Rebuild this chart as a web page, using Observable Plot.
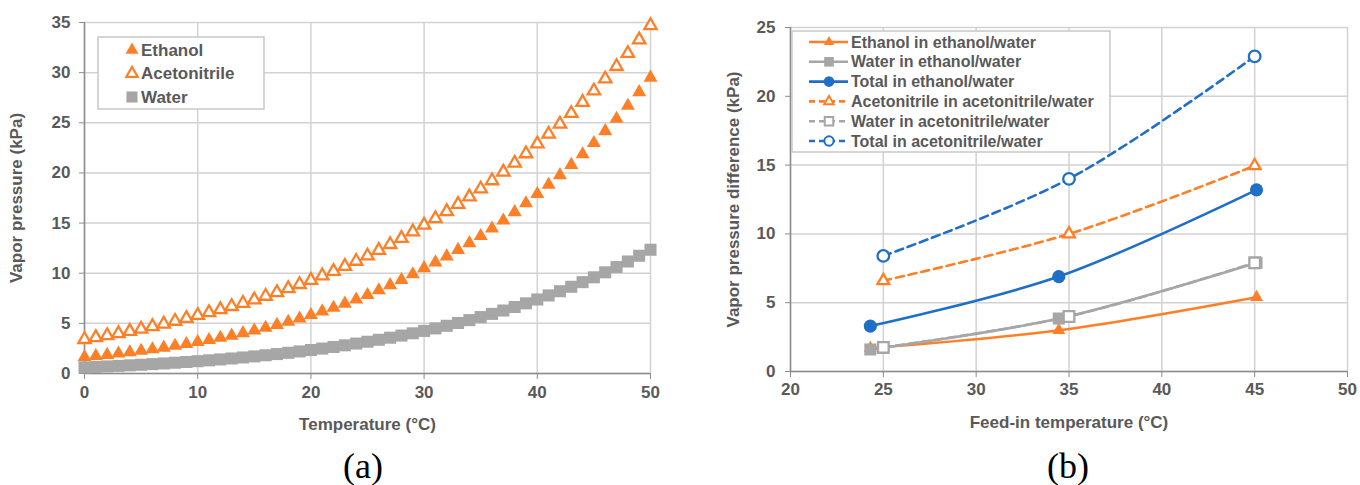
<!DOCTYPE html>
<html><head><meta charset="utf-8">
<script src="https://cdn.jsdelivr.net/npm/d3@7"></script>
<script src="https://cdn.jsdelivr.net/npm/@observablehq/plot@0.6"></script>
<style>
body{margin:0;background:#fff;}
#wrap{position:relative;width:1360px;height:485px;overflow:hidden;font-family:"Liberation Sans",Arial,sans-serif;}
.panel{position:absolute;top:0;}
.cap{position:absolute;top:448px;font-family:"Liberation Serif","Times New Roman",serif;font-size:36px;line-height:36px;color:#000;transform:translateX(-50%);white-space:nowrap;}
.legend{position:absolute;left:0;top:0;}
</style></head><body><div id="wrap"></div><script>
// ---------- Panel (a) data ----------
const tempC = [0,1,2,3,4,5,6,7,8,9,10,11,12,13,14,15,16,17,18,19,20,21,22,23,24,25,26,27,28,29,30,31,32,33,34,35,36,37,38,39,40,41,42,43,44,45,46,47,48,49,50];
const ethanolKPa = [1.63,1.74,1.86,1.99,2.12,2.27,2.42,2.58,2.76,2.94,3.14,3.34,3.56,3.78,4.03,4.28,4.56,4.85,5.16,5.48,5.83,6.19,6.56,6.96,7.38,7.83,8.30,8.81,9.34,9.90,10.50,11.08,11.68,12.32,13.00,13.71,14.46,15.26,16.09,16.97,17.90,18.82,19.78,20.80,21.86,22.98,24.16,25.40,26.70,28.06,29.50];
const acetonitrileKPa = [3.40,3.59,3.78,3.99,4.21,4.44,4.69,4.94,5.22,5.50,5.80,6.08,6.38,6.69,7.01,7.35,7.71,8.08,8.47,8.88,9.30,9.74,10.20,10.69,11.20,11.73,12.29,12.87,13.48,14.13,14.80,15.46,16.15,16.87,17.62,18.41,19.23,20.09,20.98,21.92,22.90,23.87,24.88,25.94,27.04,28.18,29.38,30.62,31.92,33.28,34.70];
const waterKPa = [0.611,0.657,0.706,0.758,0.813,0.872,0.935,1.002,1.073,1.148,1.228,1.313,1.403,1.498,1.599,1.706,1.819,1.938,2.064,2.198,2.339,2.488,2.645,2.810,2.985,3.169,3.363,3.567,3.782,4.008,4.246,4.495,4.758,5.034,5.323,5.627,5.945,6.280,6.630,6.997,7.381,7.784,8.205,8.646,9.108,9.590,10.09,10.62,11.17,11.74,12.34];
const xTicksA = [0,10,20,30,40,50];
const yTicksA = [0,5,10,15,20,25,30,35];

// ---------- Panel (b) data ----------
const feedTempEthanolSys = [24.3,34.45,45.1];
const ethanolInEthanolWater = [1.7,3.0,5.4];
const waterInEthanolWater = [1.6,3.85,7.9];
const totalInEthanolWater = [3.3,6.9,13.2];
const feedTempAcnSys = [25,35,45];
const acnInAcnWater = [6.6,10.0,14.95];
const waterInAcnWater = [1.75,4.0,7.9];
const totalInAcnWater = [8.4,14.0,22.9];
const xTicksB = [20,25,30,35,40,45,50];
const yTicksB = [0,5,10,15,20,25];

const ORANGE = "#FF7F27", GRAY = "#A6A6A6", BLUE = "#1F6FC6", TXT = "#595959", GRID = "#D2D2D2", AX = "#8C8C8C";

const seriesA = [
  {name:"Ethanol", values:ethanolKPa, symbol:"triangle", fill:ORANGE, stroke:"none", r:5.2},
  {name:"Acetonitrile", values:acetonitrileKPa, symbol:"triangle", fill:"white", stroke:ORANGE, r:4.6},
  {name:"Water", values:waterKPa, symbol:"square", fill:GRAY, stroke:"none", r:6.8}
];
const seriesB = [
  {name:"Ethanol in ethanol/water", x:feedTempEthanolSys, y:ethanolInEthanolWater, color:ORANGE, symbol:"triangle", open:false, dash:null, r:4.8},
  {name:"Water in ethanol/water", x:feedTempEthanolSys, y:waterInEthanolWater, color:GRAY, symbol:"square", open:false, dash:null, r:6.8},
  {name:"Total in ethanol/water", x:feedTempEthanolSys, y:totalInEthanolWater, color:BLUE, symbol:"circle", open:false, dash:null, r:6.6},
  {name:"Acetonitrile in acetonitrile/water", x:feedTempAcnSys, y:acnInAcnWater, color:ORANGE, symbol:"triangle", open:true, dash:"8,5", r:4.4},
  {name:"Water in acetonitrile/water", x:feedTempAcnSys, y:waterInAcnWater, color:GRAY, symbol:"square", open:true, dash:"8,5", r:6.0},
  {name:"Total in acetonitrile/water", x:feedTempAcnSys, y:totalInAcnWater, color:BLUE, symbol:"circle", open:true, dash:"8,5", r:5.8}
];

const style = {fontFamily:"'Liberation Sans', Arial, sans-serif", fontSize:"17px", fontWeight:"bold", color:TXT, background:"transparent", overflow:"visible"};
const wrap = d3.select("#wrap");

// ---------- Panel (a) ----------
const marksA = [
  Plot.gridX(xTicksA, {stroke:GRID, strokeOpacity:1, strokeWidth:1.5}),
  Plot.gridY(yTicksA, {stroke:GRID, strokeOpacity:1, strokeWidth:1.5}),
  Plot.ruleX([0], {stroke:AX, strokeWidth:1.5}),
  Plot.ruleY([0], {stroke:AX, strokeWidth:1.5}),
  Plot.axisX(xTicksA, {tickSize:6, tickPadding:6, stroke:AX, label:"Temperature (°C)", labelAnchor:"center", labelOffset:56, labelArrow:"none"}),
  Plot.axisY(yTicksA, {tickSize:5, tickPadding:9, stroke:AX, label:"Vapor pressure (kPa)", labelAnchor:"center", labelOffset:75, labelArrow:"none"})
];
for (const s of seriesA) {
  const rows = tempC.map((t,i)=>({t, v:s.values[i]}));
  marksA.push(Plot.dot(rows, {x:"t", y:"v", symbol:()=>s.symbol, r:s.r, fill:s.fill, stroke:s.stroke, strokeWidth:2.3}));
}
const plotA = Plot.plot({
  width:680, height:440, marginLeft:84, marginRight:30, marginTop:22, marginBottom:67,
  x:{domain:[0,50]}, y:{domain:[0,35]}, symbol:{type:"identity"}, style, marks:marksA
});
wrap.append("div").attr("class","panel").style("left","0px").node().appendChild(plotA);

// ---------- Panel (b) ----------
const marksB = [
  Plot.gridX(xTicksB, {stroke:GRID, strokeOpacity:1, strokeWidth:1.5}),
  Plot.gridY(yTicksB, {stroke:GRID, strokeOpacity:1, strokeWidth:1.5}),
  Plot.ruleX([20], {stroke:AX, strokeWidth:1.5}),
  Plot.ruleY([0], {stroke:AX, strokeWidth:1.5}),
  Plot.axisX(xTicksB, {tickSize:6, tickPadding:5, stroke:AX, label:"Feed-in temperature (°C)", labelAnchor:"center", labelOffset:56, labelArrow:"none"}),
  Plot.axisY(yTicksB, {tickSize:5, tickPadding:10, stroke:AX, label:"Vapor pressure difference (kPa)", labelAnchor:"center", labelOffset:64, labelArrow:"none"})
];
for (const s of seriesB) {
  const rows = s.x.map((x,i)=>({x, y:s.y[i]}));
  marksB.push(Plot.line(rows, {x:"x", y:"y", stroke:s.color, strokeWidth:2.6, curve:"catmull-rom", strokeDasharray:s.dash || undefined}));
  marksB.push(Plot.dot(rows, {x:"x", y:"y", symbol:()=>s.symbol, r:s.r, fill:s.open ? "white" : s.color, stroke:s.open ? s.color : "none", strokeWidth:2.3}));
}
const plotB = Plot.plot({
  width:680, height:440, marginLeft:110, marginRight:13, marginTop:27, marginBottom:69,
  x:{domain:[20,50]}, y:{domain:[0,25]}, symbol:{type:"identity"}, style, marks:marksB
});
wrap.append("div").attr("class","panel").style("left","680px").node().appendChild(plotB);

// ---------- Legends ----------
const symMap = {triangle:d3.symbolTriangle, square:d3.symbolSquare, circle:d3.symbolCircle};
const svgL = wrap.append("svg").attr("class","legend").attr("width",1360).attr("height",485)
  .style("font-family","'Liberation Sans', Arial, sans-serif").style("font-weight","bold").style("pointer-events","none");

// legend (a)
svgL.append("rect").attr("x",98).attr("y",37).attr("width",166).attr("height",72)
  .attr("fill","white").attr("stroke","#C8C8C8").attr("stroke-width",1.5);
seriesA.forEach((s,i)=>{
  const cy = 50 + i*23.5;
  svgL.append("path").attr("transform",`translate(132,${cy})`)
    .attr("d", d3.symbol(symMap[s.symbol], Math.PI*(s.r*0.92)**2)())
    .attr("fill", s.fill).attr("stroke", s.stroke).attr("stroke-width",2.2);
  svgL.append("text").attr("x",141).attr("y",cy).attr("dy","0.35em").attr("font-size",17).attr("fill",TXT).text(s.name);
});

// legend (b)
svgL.append("rect").attr("x",792).attr("y",31).attr("width",318).attr("height",121)
  .attr("fill","white").attr("stroke","#C8C8C8").attr("stroke-width",1.5);
seriesB.forEach((s,i)=>{
  const cy = 42 + i*19.8;
  svgL.append("line").attr("x1",809).attr("x2",848).attr("y1",cy).attr("y2",cy)
    .attr("stroke",s.color).attr("stroke-width",2.6).attr("stroke-dasharray", s.dash ? "6,4" : null);
  svgL.append("path").attr("transform",`translate(829,${cy})`)
    .attr("d", d3.symbol(symMap[s.symbol], Math.PI*(s.r*0.8)**2)())
    .attr("fill", s.open ? "white" : s.color).attr("stroke", s.open ? s.color : "none").attr("stroke-width",2);
  svgL.append("text").attr("x",851).attr("y",cy).attr("dy","0.35em").attr("font-size",16).attr("fill",TXT).text(s.name);
});

// captions
wrap.append("div").attr("class","cap").style("left","363px").text("(a)");
wrap.append("div").attr("class","cap").style("left","1068px").text("(b)");
</script></body></html>
